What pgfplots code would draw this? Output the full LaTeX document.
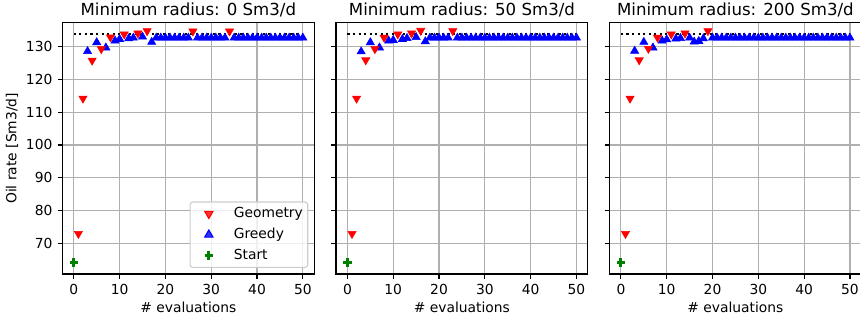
\documentclass[border=0pt]{standalone}
\usepackage{fontspec}
\setmainfont{DejaVu Sans}
\usepackage{pgfplots}
\pgfplotsset{compat=1.18}
\usepackage{pgfplotstable}

\definecolor{mplred}{rgb}{1,0,0}
\definecolor{mplblue}{rgb}{0,0,1}
\definecolor{mplgreen}{rgb}{0,0.5,0}
\definecolor{gridgray}{HTML}{B0B0B0}

% ---- starting point (shared) ----
\pgfplotstableread{
x y
0 64.2
}\start

% ---- best known rate (reference level) ----
\pgfplotstableread{
x y
0 133.9
50 133.9
}\best

% ---- minimum radius 0 Sm3/d ----
\pgfplotstableread{
x y
1 72.9
2 114.2
4 125.8
6 129.3
8 132.9
11 133.8
14 134.1
16 134.8
26 134.7
34 134.7
}\geomA
\pgfplotstableread{
x y
3 128.6
5 131.3
7 129.7
9 131.8
10 132.3
12 132.5
13 132.7
15 133.0
17 131.4
18 132.7
19 132.7
20 132.7
21 132.7
22 132.7
23 132.7
24 132.7
25 132.7
27 132.7
28 132.7
29 132.7
30 132.7
31 132.7
32 132.7
33 132.7
35 132.7
36 132.7
37 132.7
38 132.7
39 132.7
40 132.7
41 132.7
42 132.7
43 132.7
44 132.7
45 132.7
46 132.7
47 132.7
48 132.7
49 132.7
50 132.7
}\greedA

% ---- minimum radius 50 Sm3/d ----
\pgfplotstableread{
x y
1 72.9
2 114.2
4 125.9
6 129.3
8 132.8
11 133.8
14 134.1
16 134.9
23 134.8
}\geomB
\pgfplotstableread{
x y
3 128.5
5 131.3
7 129.7
9 131.8
10 132.0
12 132.3
13 132.6
15 132.9
17 131.6
18 132.7
19 132.7
20 132.7
21 132.7
22 132.7
24 132.7
25 132.7
26 132.7
27 132.7
28 132.7
29 132.7
30 132.7
31 132.7
32 132.7
33 132.7
34 132.7
35 132.7
36 132.7
37 132.7
38 132.7
39 132.7
40 132.7
41 132.7
42 132.7
43 132.7
44 132.7
45 132.7
46 132.7
47 132.7
48 132.7
49 132.7
50 132.7
}\greedB

% ---- minimum radius 200 Sm3/d ----
\pgfplotstableread{
x y
1 72.9
2 114.2
4 125.9
6 129.4
8 132.8
11 133.8
14 134.1
19 134.8
}\geomC
\pgfplotstableread{
x y
3 128.7
5 131.4
7 129.7
9 131.8
10 132.2
12 132.4
13 132.6
15 132.7
16 131.5
17 131.7
18 132.5
20 132.7
21 132.7
22 132.7
23 132.7
24 132.7
25 132.7
26 132.7
27 132.7
28 132.7
29 132.7
30 132.7
31 132.7
32 132.7
33 132.7
34 132.7
35 132.7
36 132.7
37 132.7
38 132.7
39 132.7
40 132.7
41 132.7
42 132.7
43 132.7
44 132.7
45 132.7
46 132.7
47 132.7
48 132.7
49 132.7
50 132.7
}\greedC

\pgfplotsset{
  panel/.style={
    scale only axis, width=181.4bp, height=180.9bp,
    anchor=south west,
    xmin=-2.5, xmax=52.5, ymin=60.6, ymax=137.3,
    xtick={0,10,...,50}, ytick={70,80,...,130},
    tick pos=left, tick align=outside, major tick length=3.5bp,
    grid=major, major grid style={gridgray, line width=0.8bp},
    axis line style={line width=0.8bp},
    tick style={black, line width=0.8bp},
    /pgf/number format/assume math mode=true,
    tick label style={font=\fontsize{10}{12}\selectfont},
    xticklabel style={anchor=north, inner sep=0pt, yshift=-3.5bp},
    yticklabel style={anchor=east, inner sep=0pt, xshift=-3.5bp},
    every axis title shift=0pt,
    title style={font=\fontsize{12}{14}\selectfont, at={(0.5,1)}, anchor=base, inner sep=0pt, yshift=5bp},
    xlabel={\# evaluations},
    xlabel style={font=\fontsize{10}{12}\selectfont, at={(axis description cs:0.5,0)}, anchor=base, inner sep=0pt, yshift=-28bp},
    clip=false,
  },
  geo/.style={only marks, mark=triangle*, mark size=3.4bp, color=mplred, mark options={rotate=180, draw=mplred, fill=mplred}},
  gre/.style={only marks, mark=triangle*, mark size=3.4bp, color=mplblue, mark options={draw=mplblue, fill=mplblue}},
  sta/.style={only marks, mark=+, mark size=3.1bp, color=mplgreen, mark options={line width=2.1bp}},
  ref/.style={black, line width=1.5bp, dash pattern=on 1.5bp off 2.5bp},
}

\begin{document}
\begin{tikzpicture}
% left panel with legend and y label
\begin{axis}[panel, at={(44.9bp,33.8bp)},
  title={Minimum radius: 0 Sm3/d},
  ylabel={Oil rate [Sm3/d]},
  ylabel style={font=\fontsize{10}{12}\selectfont, at={(axis description cs:-0.2,0.5)}, anchor=center},
  legend style={at={(0.976,0.024)}, anchor=south east,
    font=\fontsize{10}{12}\selectfont,
    draw=white!80!black, line width=0.8bp, rounded corners=2bp,
    fill=white, fill opacity=0.8, text opacity=1, draw opacity=1,
    inner xsep=3.5bp, inner ysep=3.6bp, row sep=5.4bp,
    cells={anchor=west},
    nodes={inner sep=0pt, text height=7.5bp, text depth=2.2bp}},
  legend image code/.code={%
    \path[draw=none, fill=none] (0bp,-1bp) rectangle (20bp,1bp);
    \draw[mark repeat=2, mark phase=2, #1] plot coordinates {(0bp,0bp) (10bp,0bp) (20bp,0bp)};},
  /tikz/every odd column/.append style={column sep=8bp},
]
\addplot[ref, forget plot] table {\best};
\addplot[gre, forget plot] table {\greedA};
\addplot[geo] table {\geomA};
\addlegendentry{Geometry}
\addlegendimage{gre}
\addlegendentry{Greedy}
\addplot[sta] table {\start};
\addlegendentry{Start}
\end{axis}

\begin{axis}[panel, at={(241.9bp,33.8bp)},
  title={Minimum radius: 50 Sm3/d}, yticklabels={}]
\addplot[ref] table {\best};
\addplot[gre] table {\greedB};
\addplot[geo] table {\geomB};
\addplot[sta] table {\start};
\end{axis}

\begin{axis}[panel, at={(438.8bp,33.8bp)},
  title={Minimum radius: 200 Sm3/d}, yticklabels={}]
\addplot[ref] table {\best};
\addplot[gre] table {\greedC};
\addplot[geo] table {\geomC};
\addplot[sta] table {\start};
\end{axis}

\pgfresetboundingbox
\useasboundingbox (0,0) rectangle (619.2bp,231.1bp);
\end{tikzpicture}
\end{document}
